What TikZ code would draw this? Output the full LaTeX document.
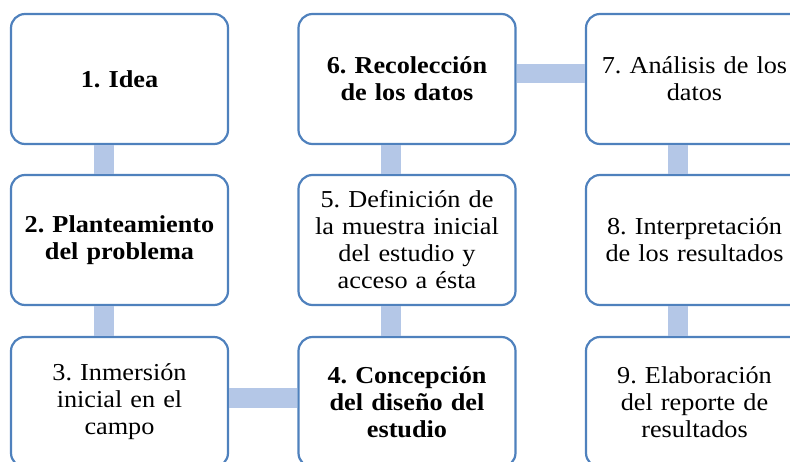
\documentclass[tikz,border=0pt]{standalone}
\usepackage{fontspec}
\setmainfont{Liberation Serif}[FakeStretch=1.08]
\definecolor{boxblue}{RGB}{79,129,189}
\definecolor{linkblue}{RGB}{180,199,231}
\frenchspacing
\begin{document}
\begin{tikzpicture}[x=1pt,y=-1pt,
  stepbox/.style={draw=boxblue, line width=2.2pt, fill=white, rounded corners=14pt,
    minimum width=217pt, minimum height=130pt, inner sep=0pt, text width=205pt,
    align=center, font=\fontsize{24.3}{27}\selectfont},
  boldbox/.style={stepbox, font=\fontsize{24.3}{27}\selectfont\bfseries},
  link/.style={draw=linkblue, line width=19.5pt}]
\useasboundingbox (0,0) rectangle (790,461);
\clip (0,0) rectangle (790,461);
\node[boldbox] (n1) at (119.5,79) {1. Idea};
\node[boldbox] (n2) at (119.5,240) {2. Planteamiento\\del problema};
\node[stepbox] (n3) at (119.5,402) {3. Inmersión\\inicial en el\\campo};
\node[boldbox] (n4) at (407,402) {4. Concepción\\del diseño del\\estudio};
\node[stepbox] (n5) at (407,240) {5. Definición de\\la muestra inicial\\del estudio y\\acceso a ésta};
\node[boldbox] (n6) at (407,79) {6. Recolección\\de los datos};
\node[stepbox] (n7) at (694.5,79) {7. Análisis de los\\datos};
\node[stepbox] (n8) at (694.5,240) {8. Interpretación\\de los resultados};
\node[stepbox] (n9) at (694.5,402) {9. Elaboración\\del reporte de\\resultados};
\draw[link] ([xshift=-15.5pt]n1.south) -- ([xshift=-15.5pt]n2.north);
\draw[link] ([xshift=-15.5pt]n2.south) -- ([xshift=-15.5pt]n3.north);
\draw[link] ([yshift=4pt]n3.east) -- ([yshift=4pt]n4.west);
\draw[link] ([xshift=-16pt]n4.north) -- ([xshift=-16pt]n5.south);
\draw[link] ([xshift=-16pt]n5.north) -- ([xshift=-16pt]n6.south);
\draw[link] ([yshift=5.5pt]n6.east) -- ([yshift=5.5pt]n7.west);
\draw[link] ([xshift=-16.5pt]n7.south) -- ([xshift=-16.5pt]n8.north);
\draw[link] ([xshift=-16.5pt]n8.south) -- ([xshift=-16.5pt]n9.north);
\end{tikzpicture}
\end{document}
